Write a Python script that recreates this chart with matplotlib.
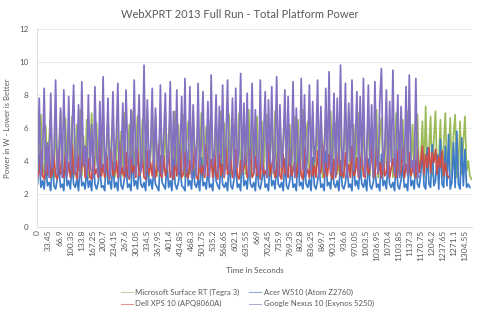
import numpy as np
import matplotlib
matplotlib.use('Agg')
import matplotlib.pyplot as plt

plt.rcParams['font.family'] = ['Lato', 'DejaVu Sans']

# power readings (W), one sample every 5 s
step_s = 5
surface_rt = [
    3.0, 4.6, 6.8, 3.2, 3.7, 6.1, 3.1, 5.3, 6.9, 3.3,
    3.0, 6.4, 3.5, 4.8, 7.0, 3.1, 3.4, 6.6, 3.2, 5.9,
    3.3, 6.7, 3.0, 4.1, 6.2, 3.4, 7.1, 3.1, 5.5, 3.2,
    6.5, 3.0, 4.4, 6.9, 3.3, 3.8, 6.3, 3.1, 5.7, 3.4,
    7.2, 3.0, 4.2, 6.6, 3.2, 5.1, 6.8, 3.0, 3.6, 6.4,
    3.3, 5.8, 3.1, 6.9, 3.5, 4.5, 6.2, 3.0, 7.0, 3.4,
    4.9, 6.7, 3.1, 3.9, 6.5, 3.2, 5.4, 7.1, 3.0, 4.3,
    6.3, 3.3, 6.8, 3.1, 4.7, 6.0, 3.2, 3.8, 6.9, 3.0,
    5.6, 6.6, 3.4, 4.0, 7.0, 3.1, 6.2, 3.3, 4.6, 6.8,
    3.0, 5.2, 6.4, 3.2, 3.7, 7.1, 3.1, 4.9, 6.5, 3.3,
    6.9, 3.0, 4.3, 6.1, 3.4, 5.8, 6.7, 3.1, 3.9, 6.6,
    3.2, 4.8, 7.0, 3.0, 6.3, 3.5, 4.4, 6.8, 3.1, 5.5,
    6.2, 3.3, 3.8, 6.9, 3.0, 5.0, 6.5, 3.2, 4.2, 7.1,
    3.1, 6.0, 3.4, 4.7, 6.7, 3.0, 3.6, 6.4, 3.3, 5.9,
    6.8, 3.1, 4.5, 6.3, 3.2, 7.0, 3.0, 4.1, 6.6, 3.4,
    5.3, 6.9, 3.1, 3.8, 6.2, 3.3, 4.9, 6.7, 3.0, 6.5,
    3.2, 4.4, 7.1, 3.1, 5.7, 6.4, 3.0, 3.9, 6.8, 3.3,
    4.6, 6.1, 3.2, 6.9, 3.0, 5.1, 6.6, 3.4, 4.0, 7.0,
    3.1, 5.9, 6.3, 3.2, 3.7, 6.8, 3.0, 4.8, 6.5, 3.3,
    7.0, 3.1, 4.3, 6.2, 3.4, 5.6, 6.9, 3.0, 3.8, 6.4,
    3.2, 4.7, 6.7, 3.1, 6.0, 3.3, 4.2, 7.1, 3.0, 5.4,
    6.6, 3.2, 3.9, 6.8, 3.1, 5.2, 6.3, 3.0, 4.5, 6.9,
    3.3, 5.8, 3.1, 6.5, 3.0, 4.4, 7.0, 3.2, 3.6, 6.2,
    3.1, 5.0, 6.8, 3.3, 4.1, 6.4, 3.0, 7.3, 3.4, 4.6,
    6.7, 3.1, 5.3, 7.0, 3.2, 3.8, 6.5, 3.0, 4.9, 6.9,
    3.3, 4.2, 6.6, 3.1, 5.6, 6.8, 3.0, 3.7, 6.4, 3.2,
    5.1, 6.7, 3.4, 4.0, 3.1, 2.9,
]
acer_w510 = [
    2.6, 4.4, 2.4, 2.8, 2.3, 3.9, 2.5, 2.7, 2.2, 4.1,
    2.5, 2.3, 2.9, 3.6, 2.4, 2.6, 2.2, 4.3, 2.5, 2.8,
    2.3, 3.8, 2.6, 2.4, 2.9, 2.2, 4.0, 2.5, 2.7, 2.3,
    3.5, 2.4, 2.8, 2.2, 4.2, 2.6, 2.3, 2.7, 3.7, 2.4,
    2.5, 2.2, 4.5, 2.6, 2.8, 2.3, 3.9, 2.4, 2.7, 2.2,
    4.1, 2.5, 2.3, 2.9, 3.6, 2.4, 2.6, 2.2, 4.4, 2.5,
    2.8, 2.3, 3.8, 2.6, 2.4, 2.7, 2.2, 4.0, 2.5, 2.9,
    2.3, 3.5, 2.6, 2.4, 2.2, 4.3, 2.7, 2.5, 2.3, 3.9,
    2.4, 2.8, 2.2, 4.1, 2.6, 2.3, 2.7, 3.7, 2.5, 2.4,
    2.2, 4.6, 2.5, 2.8, 2.3, 3.8, 2.6, 2.4, 2.9, 2.2,
    4.2, 2.5, 2.7, 2.3, 3.6, 2.4, 2.6, 2.2, 4.4, 2.8,
    2.5, 2.3, 3.9, 2.6, 2.4, 2.7, 2.2, 4.1, 2.5, 2.3,
    2.9, 3.7, 2.4, 2.6, 2.2, 4.5, 2.5, 2.8, 2.3, 3.8,
    2.6, 2.4, 2.7, 2.2, 4.0, 2.5, 2.3, 2.9, 3.6, 2.4,
    2.6, 2.2, 4.3, 2.5, 2.8, 2.3, 3.9, 2.6, 2.4, 2.7,
    2.2, 4.1, 2.5, 2.3, 2.8, 3.7, 2.4, 2.6, 2.2, 4.4,
    2.5, 2.7, 2.3, 3.8, 2.6, 2.4, 2.9, 2.2, 4.2, 2.5,
    2.3, 2.8, 3.5, 2.4, 2.6, 2.2, 4.6, 2.5, 2.7, 2.3,
    3.9, 2.6, 2.4, 2.8, 2.2, 4.0, 2.5, 2.3, 2.7, 3.7,
    2.4, 2.6, 2.2, 4.3, 2.5, 2.8, 2.3, 3.8, 2.6, 2.4,
    2.9, 2.2, 4.1, 2.5, 2.3, 2.7, 3.6, 2.4, 2.6, 2.2,
    4.4, 2.5, 2.8, 2.3, 3.9, 2.6, 2.4, 2.7, 2.2, 4.2,
    2.5, 2.3, 2.9, 3.7, 2.4, 2.6, 2.2, 4.5, 2.5, 2.8,
    2.3, 4.0, 2.6, 2.4, 3.2, 4.6, 2.5, 2.3, 4.8, 2.6,
    2.4, 5.0, 2.5, 2.8, 4.4, 2.3, 5.3, 2.6, 2.4, 4.9,
    2.5, 5.6, 2.3, 2.7, 5.1, 2.4, 5.8, 2.6, 2.3, 5.4,
    2.5, 4.7, 2.4, 2.6, 2.4,
]
dell_xps10 = [
    3.0, 3.4, 4.6, 3.1, 2.9, 3.8, 3.2, 4.9, 3.0, 3.3,
    4.2, 3.1, 2.9, 4.7, 3.2, 3.6, 3.0, 4.4, 3.1, 3.9,
    3.0, 5.0, 3.2, 3.4, 2.9, 4.3, 3.1, 3.7, 4.8, 3.0,
    3.3, 4.1, 3.0, 2.9, 4.6, 3.2, 3.5, 3.0, 4.9, 3.1,
    3.8, 3.0, 4.4, 3.2, 2.9, 4.7, 3.1, 3.3, 4.0, 3.0,
    5.1, 3.2, 3.6, 3.0, 4.5, 3.1, 2.9, 4.2, 3.3, 3.7,
    3.0, 4.8, 3.1, 3.4, 4.1, 3.0, 2.9, 4.6, 3.2, 3.9,
    3.1, 4.4, 3.0, 3.5, 5.0, 3.2, 3.0, 4.3, 3.1, 3.6,
    4.7, 3.0, 3.3, 2.9, 4.2, 3.1, 3.8, 4.9, 3.0, 3.2,
    4.5, 3.1, 3.0, 4.0, 3.3, 3.6, 4.8, 3.0, 2.9, 4.3,
    3.2, 3.7, 3.0, 5.0, 3.1, 3.4, 4.1, 3.0, 4.6, 3.2,
    2.9, 4.4, 3.1, 3.8, 3.0, 4.9, 3.2, 3.3, 4.2, 3.0,
    3.5, 4.7, 3.1, 2.9, 4.0, 3.2, 3.6, 4.5, 3.0, 3.3,
    4.8, 3.0, 3.2, 4.3, 3.1, 3.9, 2.9, 4.6, 3.2, 3.4,
    3.0, 5.1, 3.1, 3.7, 4.2, 3.0, 3.3, 4.9, 3.1, 2.9,
    4.4, 3.2, 3.6, 3.0, 4.7, 3.1, 3.4, 4.0, 3.0, 3.8,
    4.5, 3.1, 2.9, 4.8, 3.2, 3.5, 3.0, 4.3, 3.1, 3.7,
    3.0, 4.6, 3.2, 3.3, 5.0, 3.0, 3.9, 3.1, 4.4, 3.2,
    2.9, 4.1, 3.0, 3.6, 4.8, 3.1, 3.4, 3.0, 4.5, 3.2,
    3.8, 3.0, 4.9, 3.1, 3.3, 4.2, 3.0, 3.7, 4.6, 3.1,
    3.0, 4.3, 3.2, 3.5, 5.0, 3.0, 3.1, 4.7, 3.2, 3.9,
    3.0, 4.4, 3.1, 3.3, 4.8, 3.0, 3.6, 4.1, 3.2, 3.0,
    4.6, 3.1, 3.4, 4.9, 3.0, 3.8, 3.2, 4.5, 3.1, 3.5,
    4.2, 3.0, 4.7, 3.3, 3.9, 4.9, 3.2, 4.4, 3.6, 4.8,
    3.3, 4.5, 3.9, 4.7, 3.2, 4.3, 3.6, 4.6, 3.1, 3.9,
    3.2, 3.0,
]
nexus_10 = [
    3.4, 7.8, 3.1, 4.2, 8.4, 3.3, 5.1, 3.0, 8.1, 3.6,
    4.4, 8.9, 3.2, 3.9, 7.2, 3.0, 8.3, 4.6, 3.1, 7.9,
    3.5, 5.6, 8.6, 3.2, 4.1, 7.4, 3.0, 8.8, 3.7, 4.9,
    3.1, 8.0, 3.4, 6.2, 3.0, 8.5, 4.3, 3.2, 7.6, 3.6,
    9.1, 3.3, 4.7, 7.8, 3.0, 4.0, 8.2, 3.5, 5.3, 8.7,
    3.1, 3.9, 7.5, 3.4, 8.3, 4.5, 3.0, 7.1, 3.8, 8.9,
    3.2, 5.0, 8.0, 3.3, 4.2, 9.8, 3.1, 7.7, 3.6, 4.8,
    8.4, 3.0, 7.2, 4.1, 3.4, 8.6, 3.2, 5.5, 8.1, 3.5,
    4.3, 8.8, 3.1, 7.0, 3.7, 8.3, 3.2, 4.6, 7.9, 3.4,
    9.0, 3.3, 4.0, 8.5, 3.0, 7.4, 4.4, 3.1, 8.7, 3.6,
    5.2, 8.2, 3.2, 4.1, 7.6, 3.0, 9.2, 3.7, 4.5, 8.0,
    3.3, 7.3, 3.9, 8.6, 3.1, 5.0, 8.9, 3.4, 4.2, 7.8,
    3.0, 8.4, 3.6, 4.7, 9.3, 3.2, 7.5, 3.8, 8.1, 3.1,
    4.4, 8.7, 3.3, 7.1, 4.0, 3.2, 8.9, 3.5, 5.4, 8.2,
    3.0, 7.7, 3.9, 8.5, 3.3, 4.3, 9.1, 3.1, 7.4, 3.6,
    4.9, 8.3, 3.2, 7.9, 3.7, 4.1, 8.8, 3.0, 7.2, 4.5,
    3.3, 9.0, 3.5, 8.0, 3.1, 4.6, 8.6, 3.4, 7.6, 3.9,
    5.1, 8.9, 3.0, 7.3, 4.2, 3.3, 8.4, 3.6, 9.4, 3.2,
    4.4, 8.1, 3.1, 7.8, 3.8, 9.8, 3.3, 4.7, 8.7, 3.0,
    7.5, 4.0, 8.9, 3.4, 5.2, 8.2, 3.1, 7.9, 3.7, 9.0,
    3.2, 4.3, 8.6, 3.5, 7.4, 3.0, 8.8, 4.1, 3.3, 7.7,
    9.6, 3.4, 4.8, 8.3, 3.1, 7.6, 3.9, 9.5, 3.2, 4.4,
    8.0, 3.0, 7.3, 4.2, 3.5, 8.5, 3.1, 9.2, 3.6, 4.0,
    3.2, 9.0, 3.4, 3.0,
]

series = [
    ('Microsoft Surface RT (Tegra 3)', surface_rt, '#9bbb59'),
    ('Acer W510 (Atom Z2760)', acer_w510, '#3f7cc8'),
    ('Dell XPS 10 (APQ8060A)', dell_xps10, '#cc4f4a'),
    ('Google Nexus 10 (Exynos 5250)', nexus_10, '#8470c0'),
]

tick_labels = [
    '0', '33.45', '66.9', '100.35', '133.8', '167.25', '200.7', '234.15',
    '267.6', '301.05', '334.5', '367.95', '401.4', '434.85', '468.3',
    '501.75', '535.2', '568.65', '602.1', '635.55', '669', '702.45',
    '735.9', '769.35', '802.8', '836.25', '869.7', '903.15', '936.6',
    '970.05', '1003.5', '1036.95', '1070.4', '1103.85', '1137.3',
    '1170.75', '1204.2', '1237.65', '1271.1', '1304.55',
]
tick_pos = [float(t) for t in tick_labels]

txt = '#595959'
fig = plt.figure(figsize=(4.8, 3.14), dpi=100)
ax = fig.add_axes([0.077, 0.277, 0.906, 0.631])

handles = {}
for label, vals, color in series:
    t = np.arange(len(vals)) * step_s
    h, = ax.plot(t, vals, color=color, linewidth=1.25, label=label)
    handles[label] = h

ax.set_xlim(-2, 1326)
ax.set_ylim(0, 12)
ax.set_yticks(range(0, 13, 2))
ax.set_xticks(tick_pos)
ax.set_xticklabels(tick_labels, rotation=90, fontsize=6, color=txt)
ax.tick_params(axis='y', labelsize=5.8, labelcolor=txt, length=0, pad=6)
ax.tick_params(axis='x', length=0, pad=2)
ax.grid(axis='y', color='#e6e6e6', linewidth=0.6)
ax.set_axisbelow(True)
for s in ['top', 'right']:
    ax.spines[s].set_visible(False)
for s in ['left', 'bottom']:
    ax.spines[s].set_color('#dddddd')
    ax.spines[s].set_linewidth(0.7)

ax.set_xlabel('Time in Seconds', fontsize=5.8, color=txt, labelpad=4)
ax.set_ylabel('Power in W - Lower is Better', fontsize=5.6, color=txt, labelpad=6)
fig.text(0.5, 0.955, 'WebXPRT 2013 Full Run - Total Platform Power',
         ha='center', va='center', fontsize=8, color=txt)

order = ['Microsoft Surface RT (Tegra 3)', 'Dell XPS 10 (APQ8060A)',
         'Acer W510 (Atom Z2760)', 'Google Nexus 10 (Exynos 5250)']
leg = fig.legend([handles[k] for k in order], order, ncol=2, loc='center',
                 bbox_to_anchor=(0.515, 0.05), frameon=False, fontsize=5.6,
                 handlelength=1.6, handletextpad=0.3, columnspacing=1.2,
                 labelspacing=0.5)
for t in leg.get_texts():
    t.set_color(txt)
for l in leg.get_lines():
    l.set_linewidth(0.8)
    l.set_alpha(0.6)

plt.savefig('out.png', dpi=100)
plt.close()
